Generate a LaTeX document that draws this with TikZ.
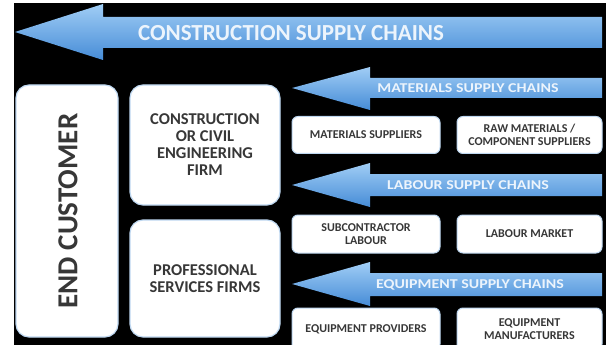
\documentclass[tikz,border=0pt]{standalone}
\usepackage{fontspec}
\setmainfont{Carlito}
\definecolor{arrtop}{RGB}{160,205,245}
\definecolor{arrbot}{RGB}{70,140,215}
\definecolor{boxtext}{RGB}{55,55,55}
\definecolor{boxedge}{RGB}{190,215,240}
\definecolor{arrtext}{RGB}{236,244,252}
\newcommand{\widetext}[1]{\scalebox{1.18}[1]{#1}}
\begin{document}
\begin{tikzpicture}[x=1pt,y=-1pt,
  bigbox/.style={draw=boxedge,line width=1.2pt,fill=white,rounded corners=13pt,
    text=boxtext,font=\bfseries\fontsize{16.5}{17}\selectfont,align=center,inner sep=0pt},
  smallbox/.style={draw=boxedge,line width=1pt,fill=white,rounded corners=6pt,
    minimum width=148pt,minimum height=37pt,text=boxtext,
    font=\bfseries\fontsize{12}{12.5}\selectfont,align=center,inner sep=0pt},
  arrowshape/.style={top color=arrtop,bottom color=arrbot,draw=none},
  arrowlabel/.style={text=arrtext,inner sep=0pt,anchor=center},
  sublabel/.style={arrowlabel,font=\bfseries\fontsize{13.5}{15}\selectfont}
]
\useasboundingbox (0,0) rectangle (606,345);
\fill[white] (0,0) rectangle (606,345);
\clip (0,0) rectangle (606,345);
\fill[black] (14,3) rectangle (606,345);

% top arrow
\path[arrowshape] (15,32) -- (103,4) -- (103,17) -- (602,17) -- (602,48) -- (103,48) -- (103,60) -- cycle;
\node[arrowlabel,font=\bfseries\fontsize{23}{24}\selectfont] (tcsc) at (291,33) {CONSTRUCTION SUPPLY CHAINS};

% materials arrow
\path[arrowshape] (292,88) -- (370,67) -- (370,78) -- (602,78) -- (602,98) -- (370,98) -- (370,110) -- cycle;
\node[sublabel] (tmat) at (468,88.5) {\widetext{MATERIALS SUPPLY CHAINS}};

% labour arrow
\path[arrowshape] (292,185) -- (370,163) -- (370,174) -- (602,174) -- (602,196) -- (370,196) -- (370,207) -- cycle;
\node[sublabel] (tlab) at (468,185.5) {\widetext{LABOUR SUPPLY CHAINS}};

% equipment arrow
\path[arrowshape] (292,284) -- (370,262) -- (370,273) -- (602,273) -- (602,296) -- (370,296) -- (370,306) -- cycle;
\node[sublabel] (teq) at (470,284.5) {\widetext{EQUIPMENT SUPPLY CHAINS}};

% left boxes
\node[bigbox,minimum width=102pt,minimum height=252pt] (endc) at (67,211) {};
\node[text=boxtext,font=\bfseries\fontsize{29}{30}\selectfont,rotate=90] (endct) at (68,211) {END CUSTOMER};
\node[bigbox,minimum width=150pt,minimum height=120pt] (cons) at (205,145)
  {CONSTRUCTION\\OR CIVIL\\ENGINEERING\\FIRM};
\node[bigbox,minimum width=150pt,minimum height=117pt] (prof) at (205,278.5)
  {PROFESSIONAL\\SERVICES FIRMS};

% small boxes
\node[smallbox] (matsup) at (366,135) {MATERIALS SUPPLIERS};
\node[smallbox,minimum width=145pt] (raw) at (529.5,135) {RAW MATERIALS /\\COMPONENT SUPPLIERS};
\node[smallbox,minimum height=38pt] (sub) at (366,234) {SUBCONTRACTOR\\LABOUR};
\node[smallbox,minimum width=145pt,minimum height=38pt] (labm) at (529.5,234) {LABOUR MARKET};
\node[smallbox,minimum height=42pt] (eqp) at (366,329) {EQUIPMENT PROVIDERS};
\node[smallbox,minimum width=145pt,minimum height=42pt] (eqm) at (529.5,329) {EQUIPMENT\\MANUFACTURERS};
\end{tikzpicture}
\end{document}
